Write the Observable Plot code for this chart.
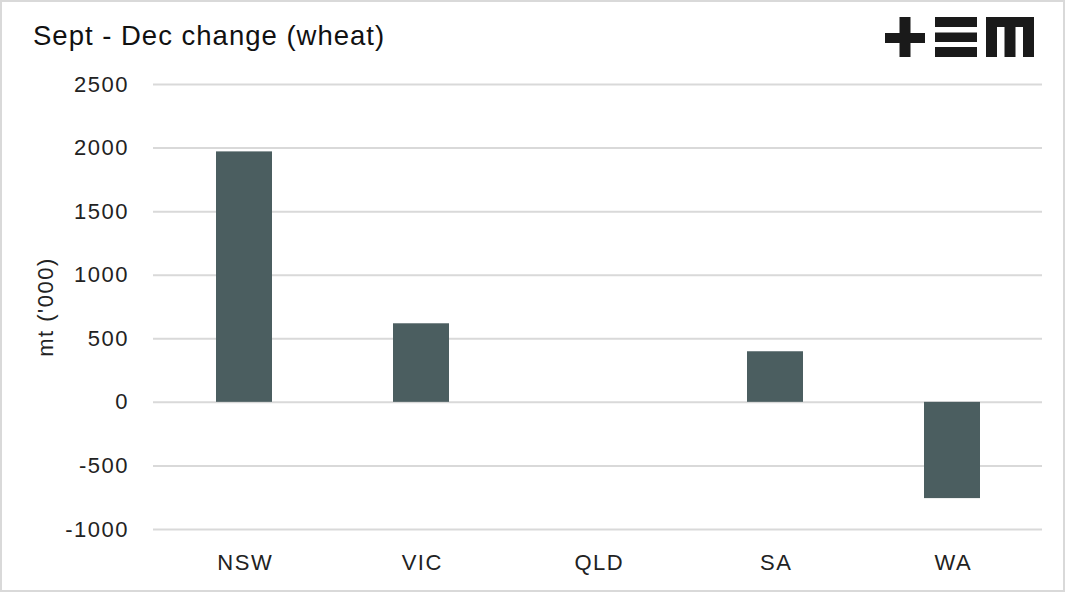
<!DOCTYPE html>
<html>
<head>
<meta charset="utf-8">
<script src="https://cdn.jsdelivr.net/npm/d3@7"></script>
<script src="https://cdn.jsdelivr.net/npm/@observablehq/plot@0.6"></script>
<style>
  html, body { margin: 0; padding: 0; background: #fff; }
  #wrap { position: relative; width: 1065px; height: 592px; overflow: hidden; background: #fff; font-family: "Liberation Sans", Arial, sans-serif; }
  #title { position: absolute; left: 33px; top: 21.5px; font-size: 27.5px; line-height: 28px; letter-spacing: 1px; color: #111; white-space: nowrap; font-family: "Liberation Sans", Arial, sans-serif; }
  #logo { position: absolute; left: 0; top: 0; }
  #chart { position: absolute; left: 0; top: 70px; }
  #border { position: absolute; left: 0; top: 0; width: 1065px; height: 592px; box-sizing: border-box; border: 2px solid #d9d9d9; pointer-events: none; }
  #chart svg text { letter-spacing: 1.5px; }
</style>
</head>
<body>
<div id="wrap">
  <div id="title">Sept - Dec change (wheat)</div>
  <svg id="logo" width="1065" height="70" xmlns="http://www.w3.org/2000/svg">
    <g fill="#1a1a1a">
      <rect x="885" y="33" width="40" height="10"/>
      <rect x="899.5" y="17" width="11" height="40"/>
      <rect x="935" y="17" width="42" height="10"/>
      <rect x="935" y="32.5" width="42" height="9.5"/>
      <rect x="935" y="47" width="42" height="10"/>
      <rect x="986" y="17" width="48" height="10"/>
      <rect x="986" y="17" width="11" height="40"/>
      <rect x="1004.5" y="17" width="11" height="40"/>
      <rect x="1023" y="17" width="11" height="40"/>
    </g>
  </svg>
  <div id="chart"></div>
  <div id="border"></div>
</div>
<script>
const states = ["NSW", "VIC", "QLD", "SA", "WA"];
const changes = [1970, 618, 0, 398, -757];
const yTicks = [-1000, -500, 0, 500, 1000, 1500, 2000, 2500];
const yLabel = "mt ('000)";

const data = states.map((s, i) => ({state: s, value: changes[i]}));

const chart = Plot.plot({
  width: 1065,
  height: 522,
  marginTop: 14,
  marginBottom: 63,
  marginLeft: 153,
  marginRight: 23,
  style: {fontFamily: "'Liberation Sans', Arial, sans-serif", fontSize: "22px", color: "#222", background: "transparent"},
  x: {domain: states, paddingInner: 0.685, paddingOuter: 0.3425, label: null},
  y: {domain: [-1000, 2500], ticks: yTicks, label: null},
  marks: [
    Plot.gridY(yTicks, {stroke: "#d9d9d9", strokeOpacity: 1, strokeWidth: 2}),
    Plot.barY(data, {x: "state", y: "value", fill: "#4b5e60"}),
    Plot.axisX({tickSize: 0, tickPadding: 24.5, dx: 0.75, fontSize: 22, label: null}),
    Plot.axisY(yTicks, {tickSize: 0, tickPadding: 24.5, fontSize: 22, label: null, tickFormat: d => String(d)}),
    Plot.text([yLabel], {frameAnchor: "left", textAnchor: "middle", dx: -108, rotate: -90, fontSize: 22, fill: "#222"})
  ]
});
document.getElementById("chart").appendChild(chart);
</script>
</body>
</html>
